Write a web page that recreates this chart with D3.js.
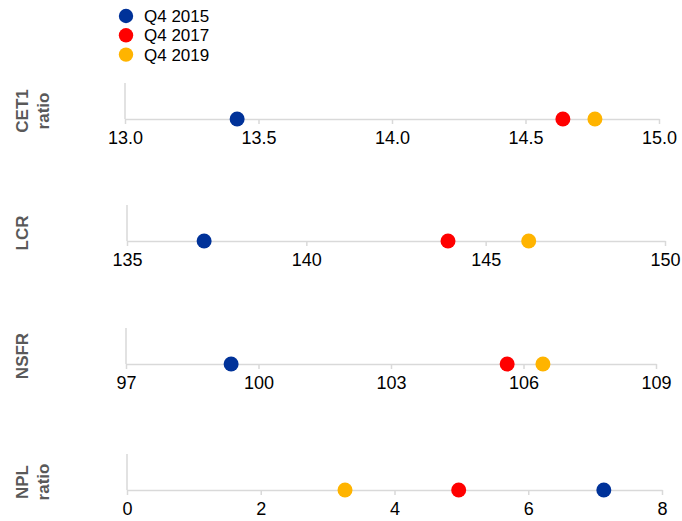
<!DOCTYPE html>
<html>
<head>
<meta charset="utf-8">
<script src="https://cdn.jsdelivr.net/npm/d3@7"></script>
<style>
body{margin:0;background:#fff;}
text{font-family:"Liberation Sans",Arial,sans-serif;}
</style>
</head>
<body>
<div id="canvas"></div>
<script>
//series and indicators
var series = ['Q4 2015','Q4 2017','Q4 2019'];
var colors = ['#003299','#ff0000','#ffb400'];

var indicators = [['CET1','ratio'],['LCR'],['NSFR'],['NPL','ratio']];
var domains = [[13,15],[135,150],[97,109],[0,8]];
var tickVals = [
    [13.0,13.5,14.0,14.5,15.0],
    [135,140,145,150],
    [97,100,103,106,109],
    [0,2,4,6,8]
];
var tickFmt = ['.1f','d','d','d'];

//values per indicator, in order Q4 2015, Q4 2017, Q4 2019
var cet1 = [13.42,14.64,14.76];
var lcr = [137.15,143.95,146.2];
var nsfr = [99.38,105.63,106.44];
var npl = [7.13,4.96,3.26];
var values = [cet1,lcr,nsfr,npl];

var width = 682, height = 521;
var svg = d3.select('#canvas').append('svg')
    .attr('width',width)
    .attr('height',height);

//legend
var legend = svg.append('g');
series.forEach(function(s,i){
    legend.append('circle')
        .attr('cx',126).attr('cy',16+i*19.3).attr('r',7.2)
        .style('fill',colors[i]);
    legend.append('text')
        .attr('x',144).attr('y',22+i*19.3)
        .style('font-size','17px')
        .text(s);
});

//panel layout (axis y, left and right ends)
var axisY = [119,241,364,490];
var xLeft = [125,127,126,127];
var xRight = [659,665,656,662];

indicators.forEach(function(lab,k){
    var x = d3.scaleLinear().domain(domains[k]).range([xLeft[k],xRight[k]]);
    var g = svg.append('g').attr('transform','translate(0,'+axisY[k]+')');

    //vertical baseline
    g.append('line')
        .attr('x1',xLeft[k]).attr('x2',xLeft[k]).attr('y1',-36).attr('y2',0)
        .style('stroke','#d9d9d9').style('stroke-width',1.5);

    var axis = d3.axisBottom(x)
        .tickValues(tickVals[k])
        .tickFormat(d3.format(tickFmt[k]))
        .tickSizeInner(5).tickSizeOuter(0).tickPadding(7);
    var ax = g.append('g').call(axis);
    ax.select('.domain').style('stroke','#d9d9d9').style('stroke-width',1.5);
    ax.selectAll('.tick line').style('stroke','#d9d9d9').style('stroke-width',1.5);
    ax.selectAll('.tick text')
        .style('font-size','18px')
        .style('font-family','"Liberation Sans",Arial,sans-serif')
        .style('fill','#000');

    //dots
    values[k].forEach(function(v,i){
        g.append('circle')
            .attr('cx',x(v)).attr('cy',0).attr('r',7.5)
            .style('fill',colors[i]);
    });

    //rotated label
    var cy = axisY[k]-8;
    var t = svg.append('text')
        .attr('transform','translate(28,'+cy+') rotate(-90)')
        .attr('text-anchor','middle')
        .style('font-size','17px')
        .style('font-weight','bold')
        .style('fill','#595959');
    lab.forEach(function(l,j){
        t.append('tspan')
            .attr('x',0)
            .attr('dy',j==0?0:21)
            .text(l);
    });
});
</script>
</body>
</html>
